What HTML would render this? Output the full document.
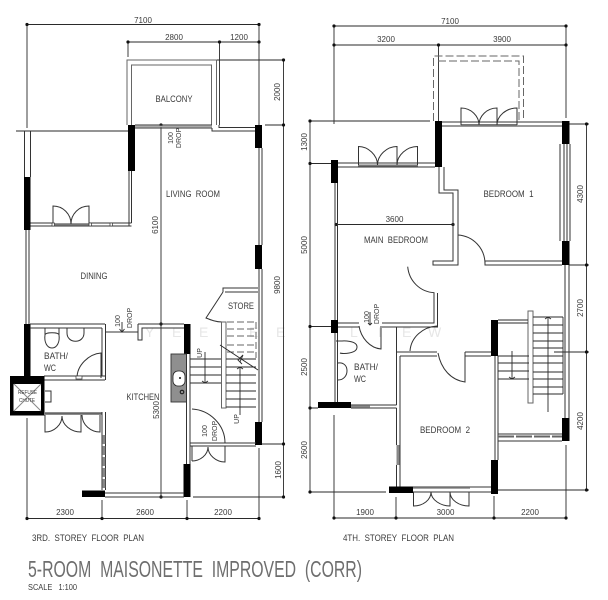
<!DOCTYPE html>
<html><head><meta charset="utf-8"><style>
html,body{margin:0;padding:0;background:#fff;width:608px;height:600px;overflow:hidden}
svg{display:block;filter:blur(.3px)}
text{font-family:"Liberation Sans",sans-serif;fill:#3a3a3a;font-size:10px}
.m{text-anchor:middle}
.l{fill:none;stroke:#2a2a2a;stroke-width:.9}
.w{fill:none;stroke:#333;stroke-width:1}
.g{fill:none;stroke:#666;stroke-width:1}
.b{fill:#000}
.d{fill:#111}
</style></head><body>
<svg width="608" height="600" viewBox="0 0 608 600" xmlns="http://www.w3.org/2000/svg">
<!-- watermark -->
<g><text x="145" y="337" style="fill:#e6e6e6;font-size:14px">Y</text><text x="172" y="337" style="fill:#e6e6e6;font-size:14px">E</text><text x="199" y="337" style="fill:#e6e6e6;font-size:14px">E</text><text x="249" y="337" style="fill:#e6e6e6;font-size:14px">E</text><text x="276" y="337" style="fill:#e6e6e6;font-size:14px">E</text><text x="350" y="337" style="fill:#e6e6e6;font-size:14px">L</text><text x="378" y="337" style="fill:#e6e6e6;font-size:14px">I</text><text x="402" y="337" style="fill:#e6e6e6;font-size:14px">E</text><text x="428" y="337" style="fill:#e6e6e6;font-size:14px">W</text></g>

<!-- LEFT PLAN dimensions -->
<path class="l" d="M27 24.5H259M128 42H259M27 24.5V128M259 24.5V125M128 42V57M219.5 42V125M217 60H284M265 125H284M283.5 60V497M161 125V497M16 131H128M193 497H284M256 444H284M27 518.5H259M27 418V518.5M102 500V518.5M187 500V518.5M259 448V518.5"/>
<g class="d"><circle cx="27" cy="24.5" r="1.6"/><circle cx="259" cy="24.5" r="1.6"/><circle cx="128" cy="42" r="1.6"/><circle cx="219.5" cy="42" r="1.6"/><circle cx="259" cy="42" r="1.6"/><circle cx="283.5" cy="60" r="1.6"/><circle cx="283.5" cy="125" r="1.6"/><circle cx="283.5" cy="444" r="1.6"/><circle cx="283.5" cy="497" r="1.6"/><circle cx="161" cy="125" r="1.6"/><circle cx="161" cy="324" r="1.6"/><circle cx="161" cy="497" r="1.6"/><circle cx="27" cy="518.5" r="1.6"/><circle cx="102" cy="518.5" r="1.6"/><circle cx="187" cy="518.5" r="1.6"/><circle cx="259" cy="518.5" r="1.6"/></g>

<!-- LEFT walls -->
<path class="g" d="M127 125V60H216.5V125M131.5 125V65H211.5V125"/>
<path class="w" d="M135 125H212M135 128H212M212 128V131H255M219 125V127.5H255"/>
<path class="w" d="M24.5 131V177M30.5 131V177M26 230V324M29 230V324"/>
<path class="w" d="M129 171V225.5M131.5 171V223M30 223H53M30 226H131.5M89 223H131.5"/>
<path d="M53 224.5H89" stroke="#777" stroke-width="2.5" fill="none"/>
<path class="w" d="M53 224V206C63 206 71 214 71 224M89 224V206C79 206 71 214 71 224"/>
<rect x="52" y="223" width="2.5" height="3" fill="#fff" stroke="#333" stroke-width=".7"/><rect x="89" y="223" width="2.5" height="3" fill="#fff" stroke="#333" stroke-width=".7"/><rect x="110" y="223" width="2.5" height="3" fill="#fff" stroke="#333" stroke-width=".7"/>
<path class="w" d="M259 148V245M262 148V245M259 269V422M262 269V422"/>
<path d="M135 126.5H212" stroke="#aaa" stroke-width="1.5"/>
<g class="b"><rect x="128" y="125" width="7" height="46"/><rect x="24" y="177" width="6.5" height="53"/><rect x="255" y="125" width="7" height="23"/><rect x="255" y="245" width="7" height="24"/><rect x="255" y="422" width="7" height="23"/><rect x="24" y="324" width="6.5" height="52"/><rect x="184" y="324" width="6.5" height="30"/><rect x="183.5" y="464" width="7" height="33"/><rect x="82" y="490.5" width="23" height="6.5"/></g>

<!-- store -->
<path class="w" d="M223 292V288H258M225 292H258M223 292L206 318C211 320 216 322 222 322"/>
<!-- stair -->
<path class="g" d="M221.5 322V408H226V322H221.5" stroke-width="1.4"/>
<path class="g" stroke-dasharray="7 3" d="M227 322H256M227 329H256M227 336H256M227 345H256M227 352H256M256 322V358"/>
<path class="l" d="M220 345L258 370M226 359H256M226 367H256M226 375H256M226 383H256M226 391H256M226 399H256M226 407H256M190 359H221M190 367H221M190 375H221M190 383H221M205 352V383M202 381L205 383L208 381M240 367V415M237 369L240 367L243 369M240 362L243 355L238 360L242 364"/>
<!-- sink -->
<rect x="171" y="354" width="15.5" height="48" fill="#8f8f8f" stroke="#333" stroke-width=".9"/>
<rect x="173" y="371" width="12" height="15" rx="5" fill="#fff" stroke="#222" stroke-width=".8"/>
<circle cx="180" cy="378" r="1" fill="#111"/><circle cx="182" cy="392" r="1.8" fill="none" stroke="#111"/>
<!-- kitchen right wall and doors -->
<path class="w" d="M186.5 354V464M190 354V464M190 443H256M190 446H256M105 493H184M105 497H184"/>
<path class="w" d="M192 409C210 410 225 425 225 443M192 461V446M192 461C200 461 208 455 208 447C208 455 216 462 225 462V446"/>
<!-- bath left -->
<path class="w" d="M30 324H105M30 328H102M102 328V376M105.5 324V380M44 376H105M44 380H105"/>
<path class="w" d="M77 378C77 365 89 354 101 353V378"/>
<path class="w" d="M45 328V335C45 332 59 332 59 335V328M45 335C44 342 47 348 52 348C57 348 60 342 59 335M67 328V333C67 344 84 344 84 333V328"/>
<rect x="76" y="376" width="6" height="3" fill="#fff" stroke="#333" stroke-width=".7"/>
<!-- kitchen upper wall -->
<path class="w" d="M106 332H138M138 324V340H142V328H184M138 324H184"/>
<path class="l" d="M122 322V332M119.5 329L122 332L124.5 329"/>
<!-- chute -->
<path d="M10 376H44.5V415.5H10Z" fill="#000"/>
<rect x="13.5" y="384" width="27.5" height="27" fill="#fff"/>
<path d="M14 384L41 411M41 384L14 411" stroke="#888" stroke-width="1"/>
<path class="w" d="M45 391H51V402H45"/>
<!-- lower left door -->
<path d="M45 413.5H102" stroke="#666" stroke-width="2.5"/>
<path class="w" d="M45 415V432C54 432 62 425 62 416C62 425 71 432 81 432V415M82 415C82 425 91 432 100 432V415"/>
<path class="w" d="M102 412V490M105.5 412V490"/>
<path d="M103.8 435V490" stroke="#888" stroke-width="3" stroke-dasharray="9 2"/>

<!-- RIGHT PLAN dimensions -->
<path class="l" d="M334 26H566M334 45H566M334 26V124M438.5 45V121M566 26V118M310 121H430M310 121V492M310 163.5H331M310 326.5H331M310 408H318M310 492H386M586.5 124V490M569 124H589M569 265H589M554 352H589M498 490H589M336 224.5H453M334 518H566M334 415V518M396 497V518M494 496V518M566 445V518"/>
<g class="d"><circle cx="334" cy="26" r="1.6"/><circle cx="566" cy="26" r="1.6"/><circle cx="334" cy="45" r="1.6"/><circle cx="438.5" cy="45" r="1.6"/><circle cx="566" cy="45" r="1.6"/><circle cx="310" cy="121" r="1.6"/><circle cx="310" cy="163.5" r="1.6"/><circle cx="310" cy="326.5" r="1.6"/><circle cx="310" cy="408" r="1.6"/><circle cx="310" cy="492" r="1.6"/><circle cx="586.5" cy="124" r="1.6"/><circle cx="586.5" cy="265" r="1.6"/><circle cx="586.5" cy="352" r="1.6"/><circle cx="586.5" cy="490" r="1.6"/><circle cx="336" cy="224.5" r="1.6"/><circle cx="453" cy="224.5" r="1.6"/><circle cx="334" cy="518" r="1.6"/><circle cx="396" cy="518" r="1.6"/><circle cx="494" cy="518" r="1.6"/><circle cx="566" cy="518" r="1.6"/></g>

<!-- RIGHT walls -->
<path class="g" stroke-dasharray="8 3" d="M433.5 121V56H523.5V121M438 61H519V121"/>
<path class="w" d="M442 122H562M442 126H562"/>
<path d="M461 125H517" stroke="#777" stroke-width="2"/>
<path class="w" d="M461 125V108C471 108 479 116 479 125C479 116 487 108 497 108V125M497 125C497 116 506 108 517 108V125"/>
<path class="w" d="M338 163H435M338 167H435"/>
<path d="M358 165.5H418" stroke="#777" stroke-width="2"/>
<path class="w" d="M358.5 165V146.5C368 146.5 377.5 155 377.5 165C377.5 155 387 146.5 397 146.5V165M397 165C397 155 407 146.5 417.5 146.5V165"/>
<path class="w" d="M335 183V320M337.5 183V320M335 333V402M337.5 333V402"/>
<path class="w" d="M439 167V193H453V261H433V265H458V190H444V167"/>
<path class="w" d="M485 261V265H562M485 261H562"/>
<path class="w" d="M458 235C473 236 485 248 485 264M407.7 266.7C409 281 420 292 434.5 292.7"/>
<path class="w" d="M434 293V323H382M437.5 293V327H382M337 323H359M337 327H359"/>
<path class="w" d="M359 326C361 338 370 348 381 349V326"/>
<path class="w" d="M560 144V241M564 144V241M567 144V241M570 144V241M565 265V418M569 265V418"/>
<path class="w" d="M396.5 327V405M351 405H396.5M351 408H396.5M400 356V492M397 352H437M400 356H437M396.5 408V445M396.5 465V487"/>
<path class="w" d="M410 351C411 337 423 327 437 326"/>
<path class="w" d="M438 353C441 369 451 380 465 382V352M465 352H491M465 356H491"/>
<path class="w" d="M495 356V460M498 356V460M400 487H491M400 492H491"/>
<path d="M398 445V465" stroke="#888" stroke-width="3"/>
<path d="M351 406.5H370" stroke="#888" stroke-width="2.5"/>
<path d="M413 488H470" stroke="#888" stroke-width="1.5"/>
<path class="w" d="M413.5 492V506C423 506 431 500 431 492C431 500 441 506 450 506V492M450 492C450 500 459 506 469 506V492"/>
<g class="b"><rect x="435" y="121" width="7" height="46"/><rect x="331" y="160" width="7" height="23"/><rect x="562" y="121" width="7.5" height="23"/><rect x="562" y="241" width="7.5" height="24"/><rect x="331" y="320" width="7" height="13"/><rect x="318" y="402" width="33" height="6"/><rect x="491" y="320" width="7" height="36"/><rect x="491" y="460" width="7" height="34"/><rect x="389" y="486.5" width="24" height="6.5"/><rect x="562" y="418" width="7.5" height="23"/></g>
<!-- bath right fixtures -->
<path class="w" d="M336 341H342C342 341 357 340 357 347C357 354 342 354 340 353M338 363C350 361 350 380 338 380"/>
<!-- right stair -->
<path class="g" stroke-width="1.4" d="M528 311H533V403H528Z"/>
<path class="l" d="M498 320H528M498 323H528M533 317H563M533 325H563M533 333H563M533 341H563M533 348H563M533 356H563M533 363H563M533 372H563M533 379H563M533 387H563M533 394H563M563 317V394M548 317V412M545 319L548 317L551 319M498 356H529M498 363H529M498 371H529M498 379H529M512 351V379M509 377L512 379L515 377"/>
<path class="w" d="M498 434H562M498 441H562"/>
<path d="M498 436.5H562" stroke="#666" stroke-width="2" stroke-dasharray="16 2"/>

<!-- LABELS -->
<text class="m" x="143" y="23" style="font-size:8px">7100</text>
<text class="m" x="174" y="40" style="font-size:8px">2800</text>
<text class="m" x="239" y="40" style="font-size:8px">1200</text>
<text class="m" x="174" y="102" style="font-size:9px" textLength="37" lengthAdjust="spacingAndGlyphs">BALCONY</text>
<text class="m" x="193" y="197" style="font-size:9px" textLength="54" lengthAdjust="spacingAndGlyphs">LIVING&#160; ROOM</text>
<text class="m" x="94" y="279" style="font-size:9px" textLength="27" lengthAdjust="spacingAndGlyphs">DINING</text>
<text class="m" x="241" y="309" style="font-size:9px" textLength="26" lengthAdjust="spacingAndGlyphs">STORE</text>
<text x="44" y="359" style="font-size:9px" textLength="24" lengthAdjust="spacingAndGlyphs">BATH/</text>
<text x="44" y="371" style="font-size:9px" textLength="12" lengthAdjust="spacingAndGlyphs">WC</text>
<text class="m" x="143" y="400" style="font-size:9px" textLength="33" lengthAdjust="spacingAndGlyphs">KITCHEN</text>
<text class="m" x="27.5" y="394" style="font-size:5px" textLength="19" lengthAdjust="spacingAndGlyphs">REFUSE</text>
<text class="m" x="27" y="402" style="font-size:5px" textLength="16" lengthAdjust="spacingAndGlyphs">CHUTE</text>
<text class="m" transform="translate(280,92) rotate(-90)" style="font-size:8px">2000</text>
<text class="m" transform="translate(280,285) rotate(-90)" style="font-size:8px">9800</text>
<text class="m" transform="translate(281,470) rotate(-90)" style="font-size:8px">1600</text>
<text class="m" transform="translate(158,225) rotate(-90)" style="font-size:8px">6100</text>
<text class="m" transform="translate(159,410) rotate(-90)" style="font-size:8px">5300</text>
<text class="m" transform="translate(173,138) rotate(-90)" style="font-size:7px">100</text>
<text class="m" transform="translate(181,138) rotate(-90)" style="font-size:7px">DROP</text>
<text class="m" transform="translate(120,321) rotate(-90)" style="font-size:7px">100</text>
<text class="m" transform="translate(132,318) rotate(-90)" style="font-size:7px">DROP</text>
<text class="m" transform="translate(207,431) rotate(-90)" style="font-size:7px">100</text>
<text class="m" transform="translate(217,431) rotate(-90)" style="font-size:7px">DROP</text>
<text class="m" transform="translate(202,353) rotate(-90)" style="font-size:7px">UP</text>
<text class="m" transform="translate(239,419) rotate(-90)" style="font-size:7px">UP</text>
<text class="m" x="65" y="515" style="font-size:8px">2300</text>
<text class="m" x="145" y="515" style="font-size:8px">2600</text>
<text class="m" x="223" y="515" style="font-size:8px">2200</text>
<text x="32" y="541" style="font-size:9px" textLength="112" lengthAdjust="spacingAndGlyphs">3RD.&#160; STOREY&#160; FLOOR&#160; PLAN</text>

<text class="m" x="450" y="24" style="font-size:8px">7100</text>
<text class="m" x="386" y="42" style="font-size:8px">3200</text>
<text class="m" x="502" y="42" style="font-size:8px">3900</text>
<text class="m" x="508.5" y="197" style="font-size:9px" textLength="50" lengthAdjust="spacingAndGlyphs">BEDROOM&#160; 1</text>
<text class="m" x="394.5" y="222" style="font-size:8px">3600</text>
<text class="m" x="396" y="243" style="font-size:9px" textLength="64" lengthAdjust="spacingAndGlyphs">MAIN&#160; BEDROOM</text>
<text class="m" x="445" y="433" style="font-size:9px" textLength="50" lengthAdjust="spacingAndGlyphs">BEDROOM&#160; 2</text>
<text x="354" y="370" style="font-size:9px" textLength="24" lengthAdjust="spacingAndGlyphs">BATH/</text>
<text x="354" y="382" style="font-size:9px" textLength="12" lengthAdjust="spacingAndGlyphs">WC</text>
<text class="m" transform="translate(307,142) rotate(-90)" style="font-size:8px">1300</text>
<text class="m" transform="translate(307,245) rotate(-90)" style="font-size:8px">5000</text>
<text class="m" transform="translate(307,367) rotate(-90)" style="font-size:8px">2500</text>
<text class="m" transform="translate(307,450) rotate(-90)" style="font-size:8px">2600</text>
<text class="m" transform="translate(583,194) rotate(-90)" style="font-size:8px">4300</text>
<text class="m" transform="translate(583,308) rotate(-90)" style="font-size:8px">2700</text>
<text class="m" transform="translate(583,421) rotate(-90)" style="font-size:8px">4200</text>
<text class="m" transform="translate(369,317) rotate(-90)" style="font-size:7px">100</text>
<text class="m" transform="translate(379,314) rotate(-90)" style="font-size:7px">DROP</text>
<path class="l" d="M370 312V325M368 323L370 325L372 323"/>
<text class="m" x="365" y="515" style="font-size:8px">1900</text>
<text class="m" x="445.5" y="515" style="font-size:8px">3000</text>
<text class="m" x="530" y="515" style="font-size:8px">2200</text>
<text x="343" y="541" style="font-size:9px" textLength="111" lengthAdjust="spacingAndGlyphs">4TH.&#160; STOREY&#160; FLOOR&#160; PLAN</text>

<text x="28" y="577" style="font-size:23px;fill:#6e6e6e" textLength="334" lengthAdjust="spacingAndGlyphs">5-ROOM&#160; MAISONETTE&#160; IMPROVED&#160; (CORR)</text>
<text x="28" y="590" style="font-size:8px" textLength="49" lengthAdjust="spacingAndGlyphs">SCALE&#160;&#160; 1:100</text>
</svg>
</body></html>
